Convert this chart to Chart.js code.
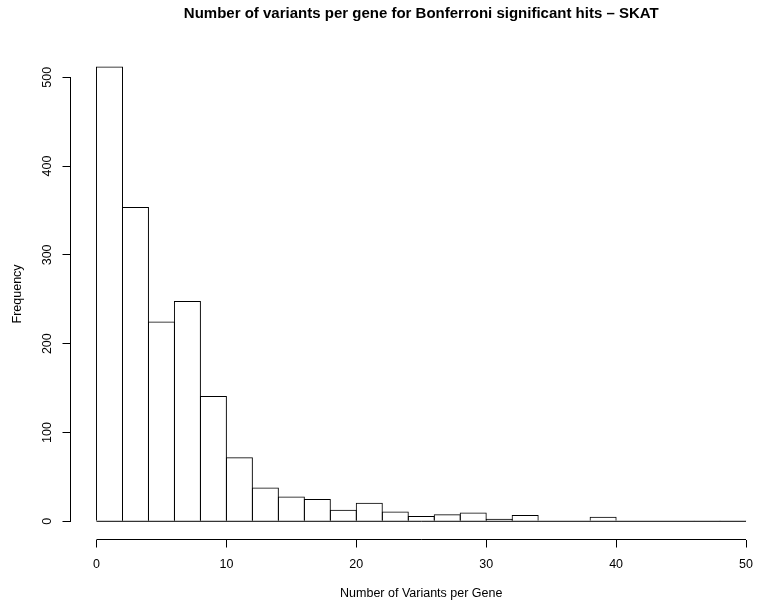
<!DOCTYPE html>
<html>
<head>
<meta charset="utf-8">
<script src="https://cdn.jsdelivr.net/npm/chart.js@4.4.1/dist/chart.umd.min.js"></script>
<style>
  html, body { margin: 0; padding: 0; background: #fff; overflow: hidden; }
  /* plot region is symmetric around the bars; its right margin runs past the window edge */
  #wrap { width: 772px; height: 606px; }
</style>
</head>
<body>
<div id="wrap"><canvas id="hist"></canvas></div>
<script>
// Histogram of variant counts per gene, bins of width 2.
const binEdges = [0, 2, 4, 6, 8, 10, 12, 14, 16, 18, 20, 22, 24, 26, 28, 30, 32, 34, 36, 38, 40, 42, 44, 46, 48, 50]
const counts = [512, 354, 225, 248, 141, 72, 38, 28, 25, 13, 21, 11, 6, 8, 10, 3, 7, 0, 0, 5, 0, 0, 0, 1, 1]

const xTicks = [0, 10, 20, 30, 40, 50]
const yTicks = [0, 100, 200, 300, 400, 500]

const mainTitle = "Number of variants per gene for Bonferroni significant hits – SKAT"
const xTitle = "Number of Variants per Gene"
const yTitle = "Frequency"

const FONT = "'Liberation Sans', Arial, Helvetica, sans-serif"

// one bar per bin, placed at the bin midpoint on a linear x axis
const bars = counts.map((c, i) => ({ x: (binEdges[i] + binEdges[i + 1]) / 2, y: c }))
// empty bins still get a rect of zero height, so the baseline runs edge to edge
const baseline = [{ x: binEdges[0], y: 0 }, { x: binEdges.at(-1), y: 0 }]

// base-graphics style axes: the axis line only spans first..last tick
const axisLines = {
  id: "axisLines",
  afterDraw(chart) {
    const { ctx, chartArea, scales } = chart
    const { x, y } = scales
    ctx.save()
    ctx.strokeStyle = "#000"
    ctx.lineWidth = 1
    ctx.beginPath()
    ctx.moveTo(x.getPixelForValue(xTicks[0]), chartArea.bottom)
    ctx.lineTo(x.getPixelForValue(xTicks.at(-1)), chartArea.bottom)
    ctx.moveTo(chartArea.left, y.getPixelForValue(yTicks[0]))
    ctx.lineTo(chartArea.left, y.getPixelForValue(yTicks.at(-1)))
    ctx.stroke()
    ctx.restore()
  },
}

const tickMarks = { display: true, drawOnChartArea: false, drawTicks: true, tickLength: 8, tickColor: "#000", tickWidth: 1, offset: false }
const labelFont = { family: FONT, size: 12.5 }

new Chart(document.getElementById("hist"), {
  type: "bar",
  data: {
    datasets: [
      {
        type: "bar",
        data: bars,
        backgroundColor: "rgba(0,0,0,0)",
        borderColor: "#000",
        borderWidth: 1,
        borderSkipped: "start",
        // a hair over 1 so neighbouring outlines share one edge
        barPercentage: 1.04,
        categoryPercentage: 1,
      },
      {
        type: "line",
        data: baseline,
        borderColor: "#000",
        borderWidth: 1,
        pointRadius: 0,
        fill: false,
        tension: 0,
      },
    ],
  },
  options: {
    responsive: true,
    maintainAspectRatio: false,
    animation: false,
    events: [],
    layout: { padding: 0 },
    plugins: {
      legend: { display: false },
      tooltip: { enabled: false },
      title: {
        display: true,
        text: mainTitle,
        fullSize: false,
        color: "#000",
        font: { family: FONT, size: 15, weight: "bold" },
        padding: { top: 4.5, bottom: 25.9 },
      },
    },
    scales: {
      x: {
        type: "linear",
        min: -2,
        max: 52,
        offset: false,
        afterBuildTicks: (s) => { s.ticks = xTicks.map((v) => ({ value: v })) },
        afterFit: (s) => { s.height = 66.5 },
        grid: tickMarks,
        border: { display: false },
        ticks: { color: "#000", font: labelFont, padding: 9.5, maxRotation: 0, autoSkip: false },
        title: { display: true, text: xTitle, color: "#000", font: labelFont, padding: { top: 0, bottom: 5 } },
      },
      y: {
        type: "linear",
        min: -20.48,
        max: 532.48,
        afterBuildTicks: (s) => { s.ticks = yTicks.map((v) => ({ value: v })) },
        afterFit: (s) => { s.width = 70.5 },
        grid: tickMarks,
        border: { display: false },
        ticks: { color: "#000", font: labelFont, padding: 5, minRotation: 90, maxRotation: 90, crossAlign: "center", autoSkip: false },
        title: { display: true, text: yTitle, color: "#000", font: labelFont, padding: { top: 10.5, bottom: 0 } },
      },
    },
  },
  plugins: [axisLines],
})
</script>
</body>
</html>
